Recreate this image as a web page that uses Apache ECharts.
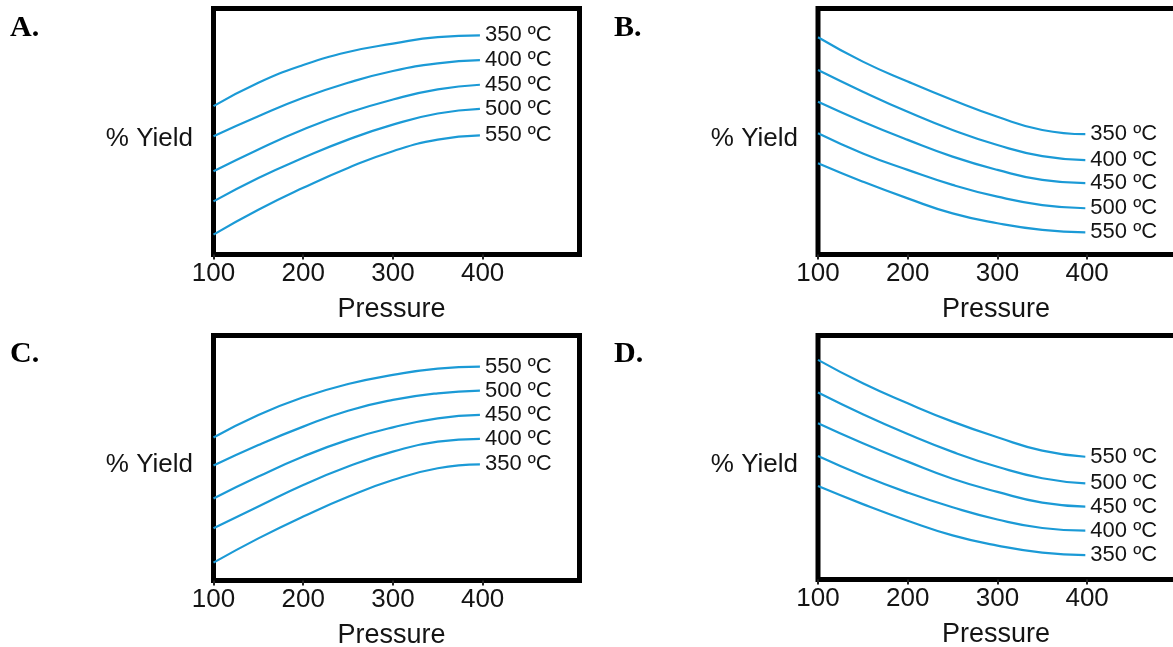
<!DOCTYPE html>
<html>
<head>
<meta charset="utf-8">
<title>% Yield vs Pressure</title>
<script src="https://cdn.jsdelivr.net/npm/echarts@6/dist/echarts.min.js"></script>
<style>
  html, body { margin: 0; padding: 0; background: #ffffff; }
  #chart { width: 1173px; height: 647px; }
</style>
</head>
<body>
<div id="chart"></div>
<script>
// Pressure sample points along each curve
const pressureRise = [100, 150, 200, 250, 300, 350, 397];
const pressureFall = [100, 150, 200, 250, 300, 350, 398];
const pressureTicks = [100, 200, 300, 400];

// Temperature labels, listed top curve first
const tempsLowFirst = ['350 ºC', '400 ºC', '450 ºC', '500 ºC', '550 ºC'];
const tempsHighFirst = ['550 ºC', '500 ºC', '450 ºC', '400 ºC', '350 ºC'];

// % yield (arbitrary 0-100 scale), one row per temperature
const yieldA = [
  [60.3, 69.8, 77.0, 82.3, 85.7, 88.4, 89.1],
  [48.1, 56.2, 63.7, 69.8, 74.6, 77.7, 79.0],
  [33.8, 42.7, 50.8, 57.6, 63.0, 67.1, 69.0],
  [21.6, 31.1, 39.3, 46.7, 52.8, 57.3, 59.2],
  [8.1, 18.2, 27.1, 35.2, 42.0, 46.7, 48.4]
];
const yieldB = [
  [88.3, 78.4, 70.3, 62.8, 56.0, 50.6, 48.9],
  [75.0, 66.2, 58.0, 50.6, 44.5, 40.0, 38.4],
  [62.1, 54.0, 46.6, 39.8, 34.4, 30.3, 29.0],
  [49.3, 41.1, 34.4, 28.3, 23.5, 20.1, 18.8],
  [37.1, 29.6, 22.8, 16.7, 12.7, 10.0, 9.0]
];
const yieldC = [
  [58.4, 67.6, 74.8, 80.2, 83.9, 86.5, 87.3],
  [46.9, 55.3, 62.8, 69.3, 73.7, 76.4, 77.5],
  [33.5, 42.4, 50.6, 57.4, 62.5, 66.2, 67.6],
  [21.3, 30.2, 39.0, 46.5, 52.6, 56.7, 57.8],
  [7.3, 17.2, 26.1, 34.2, 41.0, 45.8, 47.4]
];
const yieldD = [
  [90.0, 80.4, 72.2, 64.7, 58.3, 52.8, 50.3],
  [76.6, 67.7, 59.6, 52.3, 46.2, 41.5, 39.4],
  [64.0, 55.8, 48.3, 41.3, 35.9, 31.5, 29.9],
  [50.6, 42.6, 35.6, 29.6, 24.6, 21.1, 20.0],
  [38.3, 30.9, 24.1, 18.1, 13.9, 11.0, 10.0]
];

const panelLetters = ['A.', 'B.', 'C.', 'D.'];
const yieldTitle = '% Yield';

const SANS = '"Liberation Sans", Arial, Helvetica, sans-serif';
const SERIF = '"Liberation Serif", "Times New Roman", serif';
const CURVE = '#1b9ad6';
const INK = '#141414';

// Four framed panels: A top-left, B top-right, C bottom-left, D bottom-right
const panels = [
  { grid: { left: 213.5, top: 8.5, width: 366, height: 246 }, x: pressureRise, ys: yieldA, names: tempsLowFirst, letter: [10, 28], yTitle: [193, 139] },
  { grid: { left: 818, top: 8.5, width: 366, height: 246 }, x: pressureFall, ys: yieldB, names: tempsLowFirst, letter: [614, 28], yTitle: [798, 139] },
  { grid: { left: 213.5, top: 335.5, width: 366, height: 245 }, x: pressureRise, ys: yieldC, names: tempsHighFirst, letter: [10, 354], yTitle: [193, 465] },
  { grid: { left: 818, top: 335.5, width: 366, height: 244 }, x: pressureFall, ys: yieldD, names: tempsHighFirst, letter: [614, 354], yTitle: [798, 465] }
];

const grids = [], xAxes = [], yAxes = [], series = [], graphics = [];

panels.forEach((p, i) => {
  grids.push(Object.assign({
    show: true,
    borderColor: '#000',
    borderWidth: 5,
    backgroundColor: '#ffffff',
    containLabel: false,
    outerBoundsMode: 'none'
  }, p.grid));

  xAxes.push({
    type: 'value',
    gridIndex: i,
    min: 100,
    max: 508,
    name: 'Pressure',
    nameLocation: 'middle',
    nameGap: 42,
    nameTextStyle: { fontFamily: SANS, fontSize: 27, color: INK, padding: [0, 10, 0, 0] },
    axisLine: { show: false },
    splitLine: { show: false },
    axisTick: {
      show: true, inside: false, length: 5,
      customValues: pressureTicks,
      lineStyle: { color: '#222', width: 2 }
    },
    axisLabel: {
      customValues: pressureTicks,
      margin: 6,
      fontFamily: SANS, fontSize: 26, color: INK
    }
  });

  yAxes.push({
    type: 'value',
    gridIndex: i,
    min: 0,
    max: 100,
    axisLine: { show: false },
    axisTick: { show: false },
    axisLabel: { show: false },
    splitLine: { show: false }
  });

  p.ys.forEach((row, k) => {
    series.push({
      type: 'line',
      name: p.names[k],
      xAxisIndex: i,
      yAxisIndex: i,
      data: p.x.map((xv, j) => [xv, row[j]]),
      smooth: 0.5,
      showSymbol: false,
      silent: true,
      lineStyle: { color: CURVE, width: 2.2 },
      endLabel: {
        show: true,
        formatter: '{a}',
        distance: 5,
        fontFamily: SANS,
        fontSize: 22,
        color: INK
      },
      z: 3
    });
  });

  // Y-axis title, set horizontally beside the frame
  graphics.push({
    type: 'text',
    x: p.yTitle[0],
    y: p.yTitle[1],
    style: {
      text: yieldTitle,
      font: '26px ' + SANS,
      fill: INK,
      textAlign: 'right',
      textVerticalAlign: 'middle'
    }
  });

  // Panel letter
  graphics.push({
    type: 'text',
    x: p.letter[0],
    y: p.letter[1],
    style: {
      text: panelLetters[i],
      font: 'bold 30px ' + SERIF,
      fill: '#000',
      textAlign: 'left',
      textVerticalAlign: 'middle'
    }
  });
});

const chart = echarts.init(document.getElementById('chart'), null, { renderer: 'canvas' });
chart.setOption({
  backgroundColor: '#ffffff',
  animation: false,
  grid: grids,
  xAxis: xAxes,
  yAxis: yAxes,
  series: series,
  graphic: graphics
});
</script>
</body>
</html>
